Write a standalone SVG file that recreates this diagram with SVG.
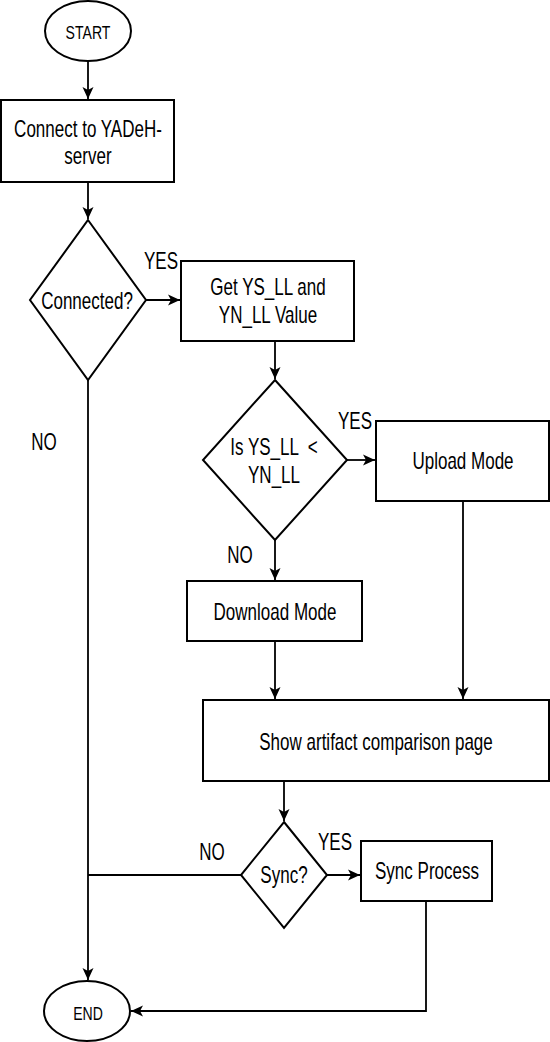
<svg xmlns="http://www.w3.org/2000/svg" width="550" height="1042" viewBox="0 0 550 1042">
<style>
.s{fill:#fff;stroke:#000;stroke-width:2}
.c{fill:none;stroke:#000;stroke-width:1.8}
text{font-family:"Liberation Sans",Arial,sans-serif;font-size:23px;fill:#000;text-anchor:middle;white-space:pre}
.sm{font-size:19px}
</style>
<defs>
<marker id="a" markerUnits="userSpaceOnUse" markerWidth="14" markerHeight="14" viewBox="0 0 14 14" refX="13" refY="7" orient="auto">
<path d="M1,1.5 L13,7 L1,12.5 L4,7 Z" fill="#000"/>
</marker>
</defs>
<rect width="550" height="1042" fill="#fff"/>
<g id="connectors">
<path class="c" d="M88,61 V99" marker-end="url(#a)"/>
<path class="c" d="M88,182 V219" marker-end="url(#a)"/>
<path class="c" d="M146,300 H180" marker-end="url(#a)"/>
<path class="c" d="M275,341 V379" marker-end="url(#a)"/>
<path class="c" d="M347,460 H375" marker-end="url(#a)"/>
<path class="c" d="M275,540 V580" marker-end="url(#a)"/>
<path class="c" d="M463,501 V699" marker-end="url(#a)"/>
<path class="c" d="M275,641 V699" marker-end="url(#a)"/>
<path class="c" d="M284,781 V821" marker-end="url(#a)"/>
<path class="c" d="M327,875 H360" marker-end="url(#a)"/>
<path class="c" d="M88,380 V980" marker-end="url(#a)"/>
<path class="c" d="M241,875 H88"/>
<path class="c" d="M426,901 V1011 H131" marker-end="url(#a)"/>
</g>
<g id="labels">
<text transform="translate(161,269) scale(0.74,1)">YES</text>
<text transform="translate(44,450) scale(0.74,1)">NO</text>
<text transform="translate(355,429) scale(0.74,1)">YES</text>
<text transform="translate(240,563) scale(0.74,1)">NO</text>
<text transform="translate(335,850) scale(0.74,1)">YES</text>
<text transform="translate(212,860) scale(0.74,1)">NO</text>
</g>
<g id="start">
<ellipse class="s" cx="88" cy="31" rx="43" ry="30"/>
<text class="sm" transform="translate(88,39) scale(0.74,1)">START</text>
</g>
<g id="connect">
<rect class="s" x="1" y="100" width="173" height="82"/>
<text transform="translate(88,137) scale(0.74,1)">Connect to YADeH-</text>
<text transform="translate(88,164) scale(0.74,1)">server</text>
</g>
<g id="connected">
<path class="s" d="M88,220 L146,300 L88,380 L30,300 Z"/>
<text transform="translate(87,309) scale(0.74,1)">Connected?</text>
</g>
<g id="getvalues">
<rect class="s" x="181" y="261" width="173" height="80"/>
<text transform="translate(268,295) scale(0.74,1)">Get YS_LL and</text>
<text transform="translate(268,323) scale(0.74,1)">YN_LL Value</text>
</g>
<g id="compare">
<path class="s" d="M275,380 L347,460 L275,540 L203,460 Z"/>
<text transform="translate(274,455) scale(0.74,1)">Is YS_LL  &lt;</text>
<text transform="translate(274,483) scale(0.74,1)">YN_LL</text>
</g>
<g id="upload">
<rect class="s" x="376" y="421" width="173" height="80"/>
<text transform="translate(463,469) scale(0.74,1)">Upload Mode</text>
</g>
<g id="download">
<rect class="s" x="187" y="581" width="175" height="60"/>
<text transform="translate(275,620) scale(0.74,1)">Download Mode</text>
</g>
<g id="show">
<rect class="s" x="203" y="700" width="346" height="81"/>
<text transform="translate(376,750) scale(0.74,1)">Show artifact comparison page</text>
</g>
<g id="sync">
<path class="s" d="M284,822 L327,875 L284,928 L241,875 Z"/>
<text transform="translate(284,883) scale(0.74,1)">Sync?</text>
</g>
<g id="syncprocess">
<rect class="s" x="361" y="841" width="131" height="60"/>
<text transform="translate(427,879) scale(0.74,1)">Sync Process</text>
</g>
<g id="end">
<ellipse class="s" cx="87" cy="1011" rx="43" ry="30"/>
<text class="sm" transform="translate(88,1020) scale(0.74,1)">END</text>
</g>
</svg>
